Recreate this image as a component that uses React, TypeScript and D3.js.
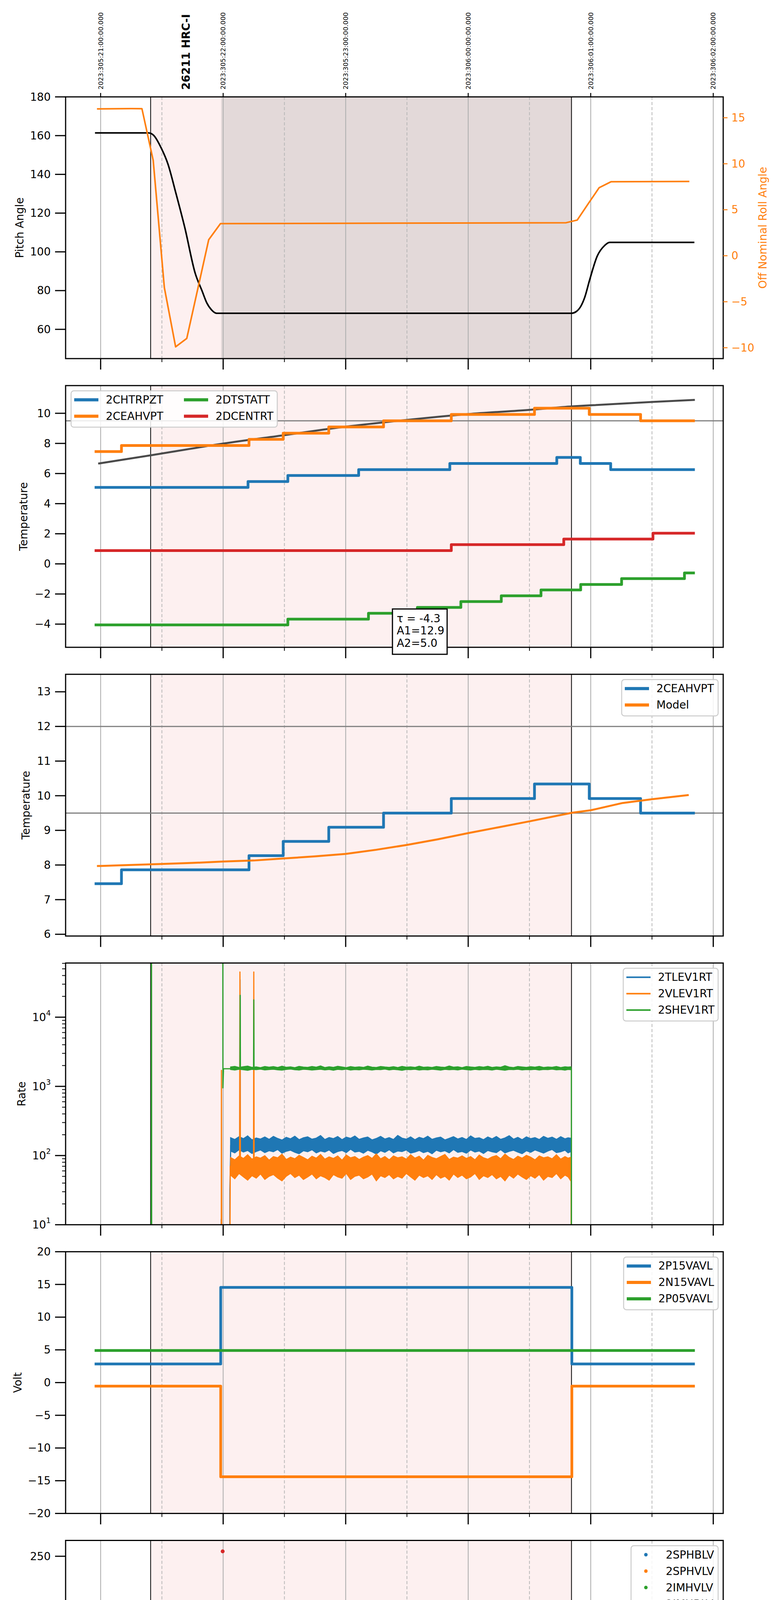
import React from "react";
import * as d3 from "d3";

// ---------- time axis (decimal hours, local, day 305) ----------
const HOUR_TICKS = [17, 18, 19, 20, 21, 22];
const HOUR_LABELS = ["17h", "18h", "19h", "20h", "21h", "22h"];
const HALF_TICKS = [17.5, 18.5, 19.5, 20.5, 21.5];
const HALF_LABELS = ["30", "30", "30", "30", "30"];
const TOP_LABELS = [
  "2023:305:21:00:00.000",
  "2023:305:22:00:00.000",
  "2023:305:23:00:00.000",
  "2023:306:00:00:00.000",
  "2023:306:01:00:00.000",
  "2023:306:02:00:00.000",
];
const X_TITLE = "2023-11-01 (305)";

// observation window
const OBS_START = 17.408;
const OBS_END = 20.843;
const DWELL_START = 17.983;
const OBS_NAME = "26211 HRC-I";
const OBS_NAME_T = 17.696;

// ---------- panel 1: pitch / roll ----------
const PITCH_T = [16.954, 17.39, 17.432, 17.496, 17.549, 17.613, 17.687, 17.772, 17.83, 17.866, 17.906, 17.947, 20.843, 20.88, 20.92, 20.951, 20.992, 21.053, 21.114, 21.154, 21.846];
const PITCH_V = [161.4, 161.4, 160.2, 153.4, 145.4, 130.6, 112.5, 88.9, 79.5, 73.7, 70.0, 68.3, 68.3, 69.1, 72.0, 76.5, 85.7, 97.8, 103.3, 104.9, 104.9];
const ROLL_T = [16.97, 17.25, 17.337, 17.429, 17.52, 17.612, 17.703, 17.882, 17.978, 20.799, 20.89, 20.982, 21.069, 21.165, 21.805];
const ROLL_V = [15.96, 16.0, 15.99, 10.37, -3.46, -9.9, -8.99, 1.74, 3.49, 3.59, 3.88, 5.7, 7.4, 8.04, 8.08];

// ---------- panel 2: temperatures ----------
const P2_NAMES = ["2CHTRPZT", "2CEAHVPT", "2DTSTATT", "2DCENTRT"];
const CHTRPZT_T = [16.951, 18.203, 18.528, 19.106, 19.85, 20.723, 20.915, 21.163, 21.85];
const CHTRPZT_V = [5.08, 5.47, 5.87, 6.26, 6.67, 7.07, 6.67, 6.26, 6.26];
const CEAHVPT_T = [16.951, 17.17, 18.211, 18.49, 18.862, 19.309, 19.862, 20.541, 20.988, 21.407, 21.85];
const CEAHVPT_V = [7.46, 7.86, 8.27, 8.68, 9.09, 9.5, 9.92, 10.34, 9.92, 9.5, 9.5];
const DTSTATT_T = [16.951, 18.528, 19.186, 19.585, 19.94, 20.27, 20.594, 20.918, 21.252, 21.765, 21.85];
const DTSTATT_V = [-4.05, -3.67, -3.28, -2.89, -2.5, -2.12, -1.73, -1.37, -0.98, -0.6, -0.6];
const DCENTRT_T = [16.951, 19.862, 20.78, 21.508, 21.85];
const DCENTRT_V = [0.88, 1.28, 1.65, 2.04, 2.04];
const MODEL2_T = [16.98, 17.41, 18.0, 18.5, 19.0, 19.5, 20.0, 20.5, 20.85, 21.0, 21.5, 21.85];
const MODEL2_V = [6.66, 7.21, 7.99, 8.55, 9.11, 9.56, 9.95, 10.23, 10.46, 10.53, 10.75, 10.89];
const P2_LIMIT = 9.5;
const FIT_TEXT = ["\u03c4 = -4.3", "A1=12.9", "A2=5.0"];

// ---------- panel 3: model vs telemetry ----------
const P3_NAMES = ["2CEAHVPT", "Model"];
const MODEL3_T = [16.97, 17.154, 17.5, 17.75, 18.0, 18.25, 18.5, 18.75, 19.0, 19.25, 19.5, 19.75, 20.0, 20.25, 20.5, 20.75, 20.85, 21.0, 21.26, 21.5, 21.8];
const MODEL3_V = [7.97, 7.99, 8.03, 8.06, 8.1, 8.13, 8.19, 8.25, 8.32, 8.44, 8.58, 8.74, 8.92, 9.09, 9.26, 9.44, 9.51, 9.58, 9.79, 9.9, 10.02];
const P3_LIMITS = [9.5, 12];

// ---------- panel 4: rates (log) ----------
const P4_NAMES = ["2TLEV1RT", "2VLEV1RT", "2SHEV1RT"];
const TLEV_T = [17.982, 17.984, 17.986, 18.052, 18.055, 18.062, 18.136, 18.138, 18.14, 20.84, 20.842];
const TLEV_V = [0.1, 12, 0.1, 0.1, 32, 140, 140, 35000, 140, 140, 0.1];
const VLEV_T = [17.984, 17.986, 17.99, 18.052, 18.058, 18.134, 18.137, 18.141, 18.248, 18.25, 18.253, 20.84, 20.842];
const VLEV_V = [0.1, 1700, 0.1, 0.1, 70, 70, 45000, 70, 70, 45000, 70, 70, 0.1];
const SHEV_T = [17.413, 17.415, 17.417, 17.5, 17.997, 17.998, 18.003, 18.137, 18.139, 18.141, 18.248, 18.25, 18.252, 20.842, 20.843];
const SHEV_V = [0.1, 1e6, 0.1, NaN, 1e6, 950, 1800, 1800, 20700, 1800, 1800, 17800, 1800, 1800, 0.1];
// noise envelopes of the three rates, read along the dwell
const BAND_T = [
  18.06, 18.095, 18.13, 18.165, 18.2, 18.235, 18.27, 18.305, 18.34, 18.375,
  18.41, 18.445, 18.48, 18.515, 18.55, 18.585, 18.62, 18.655, 18.69, 18.725,
  18.76, 18.795, 18.83, 18.865, 18.9, 18.935, 18.97, 19.005, 19.04, 19.075,
  19.11, 19.145, 19.18, 19.215, 19.25, 19.285, 19.32, 19.355, 19.39, 19.425,
  19.46, 19.495, 19.53, 19.565, 19.6, 19.635, 19.67, 19.705, 19.74, 19.775,
  19.81, 19.845, 19.88, 19.915, 19.95, 19.985, 20.02, 20.055, 20.09, 20.125,
  20.16, 20.195, 20.23, 20.265, 20.3, 20.335, 20.37, 20.405, 20.44, 20.475,
  20.51, 20.545, 20.58, 20.615, 20.65, 20.685, 20.72, 20.755, 20.79, 20.815,
  20.84,
];
const TLEV_HI = [
  182, 171, 188, 176, 193, 169, 180, 174, 186, 172,
  190, 177, 168, 184, 175, 191, 170, 181, 187, 173,
  179, 195, 171, 183, 176, 189, 170, 185, 178, 192,
  172, 180, 186, 169, 177, 190, 174, 182, 171, 196,
  179, 173, 187, 170, 184, 176, 191, 172, 180, 185,
  169, 178, 188, 174, 183, 171, 193, 177, 181, 170,
  186, 175, 189, 172, 180, 194, 173, 184, 170, 187,
  176, 182, 171, 190, 178, 185, 172, 188, 175, 181,
  178,
];
const TLEV_LO = [
  116, 109, 121, 112, 118, 107, 114, 120, 110, 117,
  113, 122, 108, 115, 119, 111, 106, 117, 113, 121,
  109, 116, 112, 120, 107, 114, 118, 110, 123, 112,
  115, 108, 119, 113, 105, 117, 111, 121, 109, 116,
  114, 120, 108, 112, 118, 110, 115, 106, 119, 113,
  117, 109, 122, 111, 114, 108, 120, 112, 116, 107,
  118, 113, 110, 121, 109, 115, 119, 112, 106, 117,
  111, 120, 114, 108, 116, 122, 110, 113, 119, 109,
  114,
];
const VLEV_HI = [
  94, 87, 99, 91, 103, 89, 96, 92, 100, 86,
  97, 93, 105, 88, 95, 90, 101, 94, 87, 98,
  92, 104, 89, 96, 91, 99, 86, 102, 93, 97,
  88, 95, 100, 91, 106, 90, 97, 87, 99, 93,
  96, 89, 103, 92, 98, 86, 101, 94, 90, 97,
  104, 88, 95, 92, 99, 91, 97, 87, 102, 93,
  89, 96, 100, 90, 105, 94, 88, 98, 92, 101,
  95, 87, 99, 93, 96, 90, 103, 89, 97, 92,
  95,
];
const VLEV_LO = [
  52, 46, 55, 49, 44, 51, 47, 54, 45, 50,
  53, 47, 43, 50, 55, 48, 52, 45, 49, 54,
  46, 51, 48, 44, 53, 49, 47, 55, 45, 50,
  52, 46, 49, 54, 43, 51, 48, 53, 46, 50,
  47, 55, 49, 44, 52, 48, 51, 45, 53, 47,
  50, 44, 54, 48, 52, 46, 49, 55, 45, 51,
  48, 53, 46, 50, 43, 52, 47, 54, 49, 45,
  51, 47, 53, 44, 50, 48, 55, 46, 52, 49,
  42,
];
const SHEV_HI = [
  1910, 1950, 1880, 1930, 1970, 1890, 1920, 1870, 1945, 1900,
  1935, 1880, 1960, 1895, 1920, 1870, 1950, 1905, 1885, 1940,
  1900, 1980, 1875, 1925, 1890, 1955, 1910, 1870, 1935, 1895,
  1920, 1885, 1965, 1900, 1880, 1945, 1910, 1890, 1930, 1875,
  1950, 1900, 1920, 1885, 1960, 1895, 1915, 1880, 1940, 1905,
  1890, 1975, 1900, 1925, 1870, 1945, 1910, 1885, 1935, 1900,
  1955, 1880, 1920, 1895, 1990, 1905, 1875, 1940, 1910, 1885,
  1930, 1900, 1950, 1880, 1915, 1895, 1945, 1875, 1925, 1905,
  1920,
];
const SHEV_LO = [
  1750, 1720, 1765, 1735, 1700, 1755, 1740, 1770, 1725, 1745,
  1760, 1730, 1710, 1750, 1775, 1735, 1720, 1760, 1745, 1715,
  1740, 1765, 1725, 1750, 1705, 1755, 1735, 1770, 1720, 1745,
  1730, 1760, 1745, 1715, 1750, 1740, 1775, 1725, 1755, 1735,
  1700, 1750, 1740, 1765, 1720, 1745, 1730, 1760, 1740, 1710,
  1755, 1735, 1750, 1725, 1770, 1740, 1715, 1755, 1730, 1750,
  1745, 1720, 1760, 1735, 1705, 1750, 1740, 1765, 1725, 1745,
  1735, 1755, 1720, 1750, 1740, 1770, 1730, 1745, 1715, 1750,
  1735,
];

// ---------- panel 5: voltages ----------
const P5_NAMES = ["2P15VAVL", "2N15VAVL", "2P05VAVL"];
const P15_T = [16.951, 17.98, 20.846, 21.85];
const P15_V = [2.84, 14.55, 2.84, 2.84];
const N15_T = [16.951, 17.98, 20.846, 21.85];
const N15_V = [-0.55, -14.4, -0.55, -0.55];
const P05_T = [16.951, 21.85];
const P05_V = [4.9, 4.9];

// ---------- panel 6: HV monitor (scatter) ----------
const P6_NAMES = ["2SPHBLV", "2SPHVLV", "2IMHVLV", "2IMHBLV"];
const SPHBLV_T: number[] = [];
const SPHBLV_V: number[] = [];
const SPHVLV_T: number[] = [];
const SPHVLV_V: number[] = [];
const IMHVLV_T = [18.006, 18.012, 18.018, 18.025, 18.032, 18.04, 18.05, 18.14, 18.25];
const IMHVLV_V = [100, 96, 92, 88, 85, 82, 80, 127, 127];
const IMHVLV_RUN_T = [18.06, 20.846];
const IMHVLV_RUN_V = [79.5, 79.5];
const IMHBLV_T = [17.996, 18.005, 18.006, 18.007, 18.01, 18.012, 18.016, 18.022, 18.03, 18.038, 18.048, 18.14, 18.25];
const IMHBLV_V = [255, 119, 127, 126, 106, 104, 101, 97, 93, 89, 87, 79, 79];
const IMHBLV_RUN_T = [18.057, 20.846];
const IMHBLV_RUN_V = [86.1, 86.1];

// ---------- panel 7: detector temps ----------
const P7_NAMES = ["2SPINATM", "2SPHVATM", "2IMINATM", "2IMHVATM"];
const SPINATM_T = [17.995, 18.134, 18.14, 18.246, 18.252, 18.89, 20.679, 20.846];
const SPINATM_V = [4.14, -5, 4.14, -5, 4.14, 4.61, 5.03, 5.03];
const SPHVATM_T = [17.986, 17.988, 18.131, 18.142, 18.247, 18.252, 18.707, 19.138, 19.585, 20.07, 20.622, 20.728, 20.734, 20.846];
const SPHVATM_V = [-5, 16.66, 10.35, 16.66, 11.13, 16.66, 16.94, 17.24, 17.52, 17.83, 18.11, 17.7, 18.11, 18.11];
const IMINATM_T = [17.995, 18.135, 18.141, 18.247, 18.253, 18.577, 18.605, 18.612, 19.87, 20.846];
const IMINATM_V = [1.52, 4.14, 1.52, 4.14, 1.52, 1.91, 1.5, 1.91, 2.38, 2.38];
const IMHVATM_T = [17.99, 17.992, 18.137, 18.141, 18.187, 18.25, 18.394, 18.508, 18.658, 18.825, 19.016, 19.252, 19.525, 19.87, 20.28, 20.836, 20.844, 20.846, 20.848];
const IMHVATM_V = [-5, 16.1, 16.7, 16.1, 16.41, 16.68, 16.96, 17.27, 17.52, 17.83, 18.11, 18.39, 18.7, 18.97, 19.28, 19.6, 40, -5, -5];

// ---------- panel 8: FEA temps ----------
const P8_NAMES = ["2FHTRMZT", "2FRADPYT", "2FEPRATM", "2FE00ATM"];
const FHTRMZT_T = [16.951, 17.63, 18.248, 18.41, 18.573, 18.736, 18.898, 19.061, 19.236, 19.415, 19.602, 19.789, 19.888, 19.895, 19.984, 20.19, 20.4, 20.61, 20.834, 21.163, 21.455, 21.752, 21.85];
const FHTRMZT_V = [-7.58, -7.18, -6.77, -6.38, -5.98, -5.59, -5.19, -4.81, -4.42, -4.03, -3.65, -3.26, -2.46, -3.26, -2.88, -2.5, -2.13, -1.75, -1.37, -1.75, -2.13, -2.5, -2.5];
const FRADPYT_T = [16.951, 17.415, 17.63, 17.723, 17.841, 17.947, 18.378, 18.58, 18.784, 18.984, 19.183, 19.382, 19.585, 19.797, 20.016, 20.252, 20.488, 20.732, 21.122, 21.419, 21.748, 21.85];
const FRADPYT_V = [-9.65, -9.22, -8.8, -8.38, -8.8, -9.22, -8.8, -8.4, -8.0, -7.59, -7.18, -6.8, -6.37, -5.98, -5.59, -5.2, -4.81, -4.43, -4.81, -5.2, -5.59, -5.59];
const FEPRATM_T = [18.016, 18.03, 18.07, 18.115, 18.17, 18.23, 18.32, 18.435, 18.565, 18.7, 18.85, 19.008, 19.187, 19.366, 19.565, 19.768, 19.988, 20.211, 20.455, 20.691, 20.833];
const FEPRATM_V = [-6.2, -5.83, -5.42, -5.03, -4.66, -4.25, -3.83, -3.42, -3.0, -2.62, -2.2, -1.83, -1.39, -1.0, -0.6, -0.19, 0.24, 0.64, 1.07, 1.53, 1.53];
const FE00ATM_T = [17.99, 17.992, 17.998, 18.003, 18.01, 18.015, 18.136, 18.14, 18.199, 18.249, 18.253, 18.313, 18.419, 18.528, 18.638, 18.716, 18.72, 18.76, 18.766, 18.882, 19.012, 19.138, 19.28, 19.431, 19.573, 19.598, 19.603, 19.715, 19.874, 19.878, 20.041, 20.203, 20.378, 20.538, 20.542, 20.549, 20.63, 20.634, 20.723, 20.844, 20.846, 20.848];
const FE00ATM_V = [-50, -4.85, -5.25, -4.85, -5.25, -4.85, 50, -4.85, -4.51, 50, -4.51, -4.17, -3.8, -3.47, -3.13, -3.5, -3.13, -3.85, -2.79, -2.44, -2.11, -1.78, -1.47, -1.1, -0.78, -1.2, -0.78, -0.47, 0.22, -0.15, 0.16, 0.5, 0.82, 50, 0.82, 1.14, 0.8, 1.14, 1.43, 50, -50, -50];

// ---------- layout ----------
const W = 2000;
const H = 6200;
const LEFT = 168;
const RIGHT = 1852;
const TOP0 = 248;
const PERIOD = 739.1;
const PH = 670;
const FS = 27.8;
const FS_SMALL = 16.7;
const FONT = "DejaVu Sans, Verdana, sans-serif";
const C = { blue: "#1f77b4", orange: "#ff7f0e", green: "#2ca02c", red: "#d62728" };

const x = d3.scaleLinear().domain([16.7141, 22.0813]).range([LEFT, RIGHT]);
const panelTop = (i: number) => TOP0 + i * PERIOD;
type Pt = [number, number];
const pts = (t: number[], v: number[]): Pt[] => t.map((d, k) => [d, v[k]]);
const minus = (v: number) => (v < 0 ? "\u2212" + Math.abs(v) : String(v));

function line(y: (v: number) => number, data: Pt[], curve: d3.CurveFactory = d3.curveLinear) {
  return (
    d3
      .line<Pt>()
      .defined((d) => !isNaN(d[1]))
      .x((d) => x(d[0]))
      .y((d) => y(d[1]))
      .curve(curve)(data) ?? ""
  );
}

function band(y: (v: number) => number, t: number[], lo: number[], hi: number[]) {
  const n = Math.min(t.length, lo.length, hi.length);
  return (
    d3
      .area<number>()
      .x((d) => x(d))
      .y0((_, k) => y(lo[k]))
      .y1((_, k) => y(hi[k]))(t.slice(0, n)) ?? ""
  );
}

interface AxesProps {
  i: number;
  y: (v: number) => number;
  yTicks: number[];
  yFmt: (v: number) => React.ReactNode;
  yMinor?: number[];
  yLabel: string;
  yLabelX: number;
  dwell?: boolean;
  xLabels?: boolean;
  children?: React.ReactNode;
  overlay?: React.ReactNode;
}

function Axes(p: AxesProps) {
  const top = panelTop(p.i);
  const bot = top + PH;
  const clip = `clip-panel-${p.i}`;
  return (
    <g>
      <defs>
        <clipPath id={clip}>
          <rect x={LEFT} y={top} width={RIGHT - LEFT} height={PH} />
        </clipPath>
      </defs>
      <rect x={x(OBS_START)} y={top} width={x(OBS_END) - x(OBS_START)} height={PH} fill="#fdf0f0" />
      {p.dwell && (
        <rect x={x(DWELL_START)} y={top} width={x(OBS_END) - x(DWELL_START)} height={PH} fill="#e3d9d9" />
      )}
      {HOUR_TICKS.map((h) => (
        <line key={"g" + h} x1={x(h)} x2={x(h)} y1={top} y2={bot} stroke="#b0b0b0" strokeWidth={2.2} />
      ))}
      {HALF_TICKS.map((h) => (
        <line key={"m" + h} x1={x(h)} x2={x(h)} y1={top} y2={bot} stroke="#b8b8b8" strokeWidth={2} strokeDasharray="8,5" />
      ))}
      {[OBS_START, OBS_END].map((t) => (
        <line key={"o" + t} x1={x(t)} x2={x(t)} y1={top} y2={bot} stroke="#000" strokeWidth={2} />
      ))}
      <g clipPath={`url(#${clip})`}>{p.children}</g>
      <rect x={LEFT} y={top} width={RIGHT - LEFT} height={PH} fill="none" stroke="#000" strokeWidth={3} />
      {/* y axis */}
      {p.yTicks.map((v) => (
        <g key={"y" + v}>
          <line x1={LEFT - 27} x2={LEFT} y1={p.y(v)} y2={p.y(v)} stroke="#000" strokeWidth={3} />
          <text x={LEFT - 38} y={p.y(v)} textAnchor="end" dominantBaseline="central" fontSize={FS}>
            {p.yFmt(v)}
          </text>
        </g>
      ))}
      {(p.yMinor ?? []).map((v) => (
        <line key={"ym" + v} x1={LEFT - 9} x2={LEFT} y1={p.y(v)} y2={p.y(v)} stroke="#000" strokeWidth={2} />
      ))}
      <text
        transform={`translate(${p.yLabelX},${top + PH / 2}) rotate(-90)`}
        textAnchor="middle"
        dominantBaseline="central"
        fontSize={FS}
      >
        {p.yLabel}
      </text>
      {/* x axis */}
      {HOUR_TICKS.map((h) => (
        <line key={"xt" + h} x1={x(h)} x2={x(h)} y1={bot} y2={bot + 28} stroke="#000" strokeWidth={3} />
      ))}
      {HALF_TICKS.map((h) => (
        <line key={"xm" + h} x1={x(h)} x2={x(h)} y1={bot} y2={bot + 9} stroke="#000" strokeWidth={2} />
      ))}
      {p.xLabels && (
        <g>
          {HOUR_TICKS.map((h, k) => (
            <text key={"xl" + h} x={x(h)} y={bot + 60} textAnchor="middle" fontSize={FS}>
              {HOUR_LABELS[k]}
            </text>
          ))}
          {HALF_TICKS.map((h, k) => (
            <text key={"xh" + h} x={x(h)} y={bot + 21} textAnchor="middle" fontSize={FS_SMALL}>
              {HALF_LABELS[k]}
            </text>
          ))}
          <text x={(LEFT + RIGHT) / 2} y={bot + 99} textAnchor="middle" fontSize={33.3}>
            {X_TITLE}
          </text>
        </g>
      )}
      {p.overlay}
    </g>
  );
}

interface LegendItem {
  label: string;
  color: string;
  kind: "thick" | "thin" | "dot";
  row: number;
  col?: number;
}

function Legend({ i, x0, w, items, colStep = 0 }: { i: number; x0: number; w: number; items: LegendItem[]; colStep?: number }) {
  const y0 = panelTop(i) + 13.5;
  const rows = (d3.max(items, (d) => d.row) ?? 0) + 1;
  const h = 51 + (rows - 1) * 42;
  return (
    <g>
      <rect x={x0} y={y0} width={w} height={h} rx={7} fill="#fff" fillOpacity={0.85} stroke="#cccccc" strokeWidth={2.5} />
      {items.map((it, k) => {
        const cy = y0 + 23 + it.row * 42;
        const bx = x0 + (it.col ?? 0) * colStep;
        return (
          <g key={k}>
            {it.kind === "dot" ? (
              <circle cx={bx + 38} cy={cy} r={4.5} fill={it.color} />
            ) : (
              <line x1={bx + 8} x2={bx + 70} y1={cy} y2={cy} stroke={it.color} strokeWidth={it.kind === "thin" ? 4 : 8} />
            )}
            <text x={bx + 89} y={cy} dominantBaseline="central" fontSize={FS}>
              {it.label}
            </text>
          </g>
        );
      })}
    </g>
  );
}

const stepProps = (color: string, w = 7) => ({
  fill: "none",
  stroke: color,
  strokeWidth: w,
  strokeLinejoin: "round" as const,
});

export default function App() {
  const tops = d3.range(8).map(panelTop);
  const range = (k: number) => [tops[k] + PH, tops[k]];

  const y1 = d3.scaleLinear().domain([44.9, 180]).range(range(0));
  const yRoll = d3.scaleLinear().domain([-11.18, 17.27]).range(range(0));
  const y2 = d3.scaleLinear().domain([-5.54, 11.84]).range(range(1));
  const y3 = d3.scaleLinear().domain([5.95, 13.505]).range(range(2));
  const y4 = d3.scaleLog().domain([10, 60700]).range(range(3));
  const y5 = d3.scaleLinear().domain([-20, 20]).range(range(4));
  const y6 = d3.scaleLinear().domain([0, 266.1]).range(range(5));
  const y7 = d3.scaleLinear().domain([0.4, 20.45]).range(range(6));
  const y8 = d3.scaleLinear().domain([-9.9, 1.724]).range(range(7));

  const logMinor: number[] = [];
  [10, 100, 1000, 10000].forEach((dec) => {
    for (let m = 2; m <= 9; m++) if (dec * m <= 60700) logMinor.push(dec * m);
  });

  const step = d3.curveStepAfter;

  return (
    <>
      <style>{"html,body{margin:0;padding:0;background:#fff}"}</style>
      <svg width={W} height={H} viewBox={`0 0 ${W} ${H}`} style={{ display: "block" }} fontFamily={FONT}>
        <rect width={W} height={H} fill="#fff" />

        {/* Panel 1 */}
        <Axes
          i={0}
          y={y1}
          yTicks={[60, 80, 100, 120, 140, 160, 180]}
          yFmt={minus}
          yLabel="Pitch Angle"
          yLabelX={50}
          dwell
          overlay={
            <g>
              {[-10, -5, 0, 5, 10, 15].map((v) => (
                <g key={"r" + v}>
                  <line x1={RIGHT} x2={RIGHT + 11} y1={yRoll(v)} y2={yRoll(v)} stroke={C.orange} strokeWidth={2.5} />
                  <text x={RIGHT + 21} y={yRoll(v)} dominantBaseline="central" fontSize={FS} fill={C.orange}>
                    {minus(v)}
                  </text>
                </g>
              ))}
              <text
                transform={`translate(1953,${tops[0] + PH / 2}) rotate(-90)`}
                textAnchor="middle"
                dominantBaseline="central"
                fontSize={FS}
                fill={C.orange}
              >
                Off Nominal Roll Angle
              </text>
              {HOUR_TICKS.map((h, k) => (
                <g key={"tl" + h}>
                  <line x1={x(h)} x2={x(h)} y1={tops[0] - 10} y2={tops[0]} stroke="#000" strokeWidth={2.5} />
                  <text
                    transform={`translate(${x(h)},${tops[0] - 19}) rotate(-90)`}
                    dominantBaseline="central"
                    fontSize={FS_SMALL}
                  >
                    {TOP_LABELS[k]}
                  </text>
                </g>
              ))}
              <text
                transform={`translate(${x(OBS_NAME_T)},${tops[0] - 18}) rotate(-90)`}
                dominantBaseline="central"
                fontSize={FS}
                fontWeight="bold"
              >
                {OBS_NAME}
              </text>
            </g>
          }
        >
          <path d={line(y1, pts(PITCH_T, PITCH_V), d3.curveMonotoneX)} {...stepProps("#000", 4)} />
          <path d={line(yRoll, pts(ROLL_T, ROLL_V))} {...stepProps(C.orange, 4)} />
        </Axes>

        {/* Panel 2 */}
        <Axes
          i={1}
          y={y2}
          yTicks={[-4, -2, 0, 2, 4, 6, 8, 10]}
          yFmt={minus}
          yLabel="Temperature"
          yLabelX={60}
          overlay={
            <g>
              <Legend
                i={1}
                x0={182}
                w={528}
                colStep={281}
                items={[
                  { label: P2_NAMES[0], color: C.blue, kind: "thick", row: 0, col: 0 },
                  { label: P2_NAMES[1], color: C.orange, kind: "thick", row: 1, col: 0 },
                  { label: P2_NAMES[2], color: C.green, kind: "thick", row: 0, col: 1 },
                  { label: P2_NAMES[3], color: C.red, kind: "thick", row: 1, col: 1 },
                ]}
              />
              <rect x={1005} y={1559} width={140} height={116} fill="#fff" stroke="#000" strokeWidth={3} />
              {FIT_TEXT.map((s, k) => (
                <text key={s} x={1016} y={1583 + k * 31.5} dominantBaseline="central" fontSize={FS}>
                  {s}
                </text>
              ))}
            </g>
          }
        >
          <line x1={LEFT} x2={RIGHT} y1={y2(P2_LIMIT)} y2={y2(P2_LIMIT)} stroke="#808080" strokeWidth={3} />
          <path d={line(y2, pts(MODEL2_T, MODEL2_V), d3.curveMonotoneX)} {...stepProps("#4a4a4a", 5)} />
          <path d={line(y2, pts(CHTRPZT_T, CHTRPZT_V), step)} {...stepProps(C.blue)} />
          <path d={line(y2, pts(CEAHVPT_T, CEAHVPT_V), step)} {...stepProps(C.orange)} />
          <path d={line(y2, pts(DTSTATT_T, DTSTATT_V), step)} {...stepProps(C.green)} />
          <path d={line(y2, pts(DCENTRT_T, DCENTRT_V), step)} {...stepProps(C.red)} />
        </Axes>

        {/* Panel 3 */}
        <Axes
          i={2}
          y={y3}
          yTicks={[6, 7, 8, 9, 10, 11, 12, 13]}
          yFmt={minus}
          yLabel="Temperature"
          yLabelX={66}
          overlay={
            <Legend
              i={2}
              x0={1592}
              w={247}
              items={[
                { label: P3_NAMES[0], color: C.blue, kind: "thick", row: 0 },
                { label: P3_NAMES[1], color: C.orange, kind: "thick", row: 1 },
              ]}
            />
          }
        >
          {P3_LIMITS.map((v) => (
            <line key={v} x1={LEFT} x2={RIGHT} y1={y3(v)} y2={y3(v)} stroke="#808080" strokeWidth={3} />
          ))}
          <path d={line(y3, pts(CEAHVPT_T, CEAHVPT_V), step)} {...stepProps(C.blue)} />
          <path d={line(y3, pts(MODEL3_T, MODEL3_V))} {...stepProps(C.orange, 5)} />
        </Axes>

        {/* Panel 4 */}
        <Axes
          i={3}
          y={y4}
          yTicks={[10, 100, 1000, 10000]}
          yFmt={(v) => (
            <>
              <tspan>10</tspan>
              <tspan dy={-11} fontSize={19}>
                {Math.round(Math.log10(v))}
              </tspan>
            </>
          )}
          yMinor={logMinor}
          yLabel="Rate"
          yLabelX={55}
          overlay={
            <Legend
              i={3}
              x0={1596}
              w={243}
              items={[
                { label: P4_NAMES[0], color: C.blue, kind: "thin", row: 0 },
                { label: P4_NAMES[1], color: C.orange, kind: "thin", row: 1 },
                { label: P4_NAMES[2], color: C.green, kind: "thin", row: 2 },
              ]}
            />
          }
        >
          <path d={band(y4, BAND_T, TLEV_LO, TLEV_HI)} fill={C.blue} stroke={C.blue} strokeWidth={2} />
          <path d={line(y4, pts(TLEV_T, TLEV_V))} {...stepProps(C.blue, 3)} />
          <path d={band(y4, BAND_T, VLEV_LO, VLEV_HI)} fill={C.orange} stroke={C.orange} strokeWidth={2} />
          <path d={line(y4, pts(VLEV_T, VLEV_V))} {...stepProps(C.orange, 3)} />
          <path d={band(y4, BAND_T, SHEV_LO, SHEV_HI)} fill={C.green} stroke={C.green} strokeWidth={2} />
          <path d={line(y4, pts(SHEV_T, SHEV_V))} {...stepProps(C.green, 3)} />
        </Axes>

        {/* Panel 5 */}
        <Axes
          i={4}
          y={y5}
          yTicks={[-20, -15, -10, -5, 0, 5, 10, 15, 20]}
          yFmt={minus}
          yLabel="Volt"
          yLabelX={45}
          overlay={
            <Legend
              i={4}
              x0={1597}
              w={242}
              items={[
                { label: P5_NAMES[0], color: C.blue, kind: "thick", row: 0 },
                { label: P5_NAMES[1], color: C.orange, kind: "thick", row: 1 },
                { label: P5_NAMES[2], color: C.green, kind: "thick", row: 2 },
              ]}
            />
          }
        >
          <path d={line(y5, pts(P15_T, P15_V), step)} {...stepProps(C.blue)} />
          <path d={line(y5, pts(N15_T, N15_V), step)} {...stepProps(C.orange)} />
          <path d={line(y5, pts(P05_T, P05_V), step)} {...stepProps(C.green)} />
        </Axes>

        {/* Panel 6 */}
        <Axes
          i={5}
          y={y6}
          yTicks={[0, 50, 100, 150, 200, 250]}
          yFmt={minus}
          yLabel="HV Monitor"
          yLabelX={50}
          overlay={
            <Legend
              i={5}
              x0={1616}
              w={223}
              items={[
                { label: P6_NAMES[0], color: C.blue, kind: "dot", row: 0 },
                { label: P6_NAMES[1], color: C.orange, kind: "dot", row: 1 },
                { label: P6_NAMES[2], color: C.green, kind: "dot", row: 2 },
                { label: P6_NAMES[3], color: C.red, kind: "dot", row: 3 },
              ]}
            />
          }
        >
          {[
            { t: SPHBLV_T, v: SPHBLV_V, c: C.blue, rt: [] as number[], rv: [] as number[] },
            { t: SPHVLV_T, v: SPHVLV_V, c: C.orange, rt: [] as number[], rv: [] as number[] },
            { t: IMHVLV_T, v: IMHVLV_V, c: C.green, rt: IMHVLV_RUN_T, rv: IMHVLV_RUN_V },
            { t: IMHBLV_T, v: IMHBLV_V, c: C.red, rt: IMHBLV_RUN_T, rv: IMHBLV_RUN_V },
          ].map((s, k) => (
            <g key={k}>
              {s.rt.length > 0 && (
                <path d={line(y6, pts(s.rt, s.rv))} stroke={s.c} strokeWidth={10} strokeLinecap="round" fill="none" />
              )}
              {pts(s.t, s.v).map((d, j) => (
                <circle key={j} cx={x(d[0])} cy={y6(d[1])} r={5} fill={s.c} />
              ))}
            </g>
          ))}
        </Axes>

        {/* Panel 7 */}
        <Axes
          i={6}
          y={y7}
          yTicks={[2.5, 5, 7.5, 10, 12.5, 15, 17.5, 20]}
          yFmt={(v) => v.toFixed(1)}
          yLabel="Detector Temp"
          yLabelX={41}
          overlay={
            <Legend
              i={6}
              x0={1592}
              w={247}
              items={[
                { label: P7_NAMES[0], color: C.blue, kind: "thick", row: 0 },
                { label: P7_NAMES[1], color: C.orange, kind: "thick", row: 1 },
                { label: P7_NAMES[2], color: C.green, kind: "thick", row: 2 },
                { label: P7_NAMES[3], color: C.red, kind: "thick", row: 3 },
              ]}
            />
          }
        >
          <path d={line(y7, pts(SPINATM_T, SPINATM_V), step)} {...stepProps(C.blue)} />
          <path d={line(y7, pts(SPHVATM_T, SPHVATM_V), step)} {...stepProps(C.orange)} />
          <path d={line(y7, pts(IMINATM_T, IMINATM_V), step)} {...stepProps(C.green)} />
          <path d={line(y7, pts(IMHVATM_T, IMHVATM_V), step)} {...stepProps(C.red)} />
        </Axes>

        {/* Panel 8 */}
        <Axes
          i={7}
          y={y8}
          yTicks={[-8, -6, -4, -2, 0]}
          yFmt={minus}
          yLabel="FEA Temp"
          yLabelX={62}
          xLabels
          overlay={
            <Legend
              i={7}
              x0={1588}
              w={251}
              items={[
                { label: P8_NAMES[0], color: C.blue, kind: "thick", row: 0 },
                { label: P8_NAMES[1], color: C.orange, kind: "thick", row: 1 },
                { label: P8_NAMES[2], color: C.green, kind: "thick", row: 2 },
                { label: P8_NAMES[3], color: C.red, kind: "thick", row: 3 },
              ]}
            />
          }
        >
          <path d={line(y8, pts(FHTRMZT_T, FHTRMZT_V), step)} {...stepProps(C.blue)} />
          <path d={line(y8, pts(FRADPYT_T, FRADPYT_V), step)} {...stepProps(C.orange)} />
          <path d={line(y8, pts(FEPRATM_T, FEPRATM_V), step)} {...stepProps(C.green)} />
          <path d={line(y8, pts(FE00ATM_T, FE00ATM_V), step)} {...stepProps(C.red)} />
        </Axes>
      </svg>
    </>
  );
}
